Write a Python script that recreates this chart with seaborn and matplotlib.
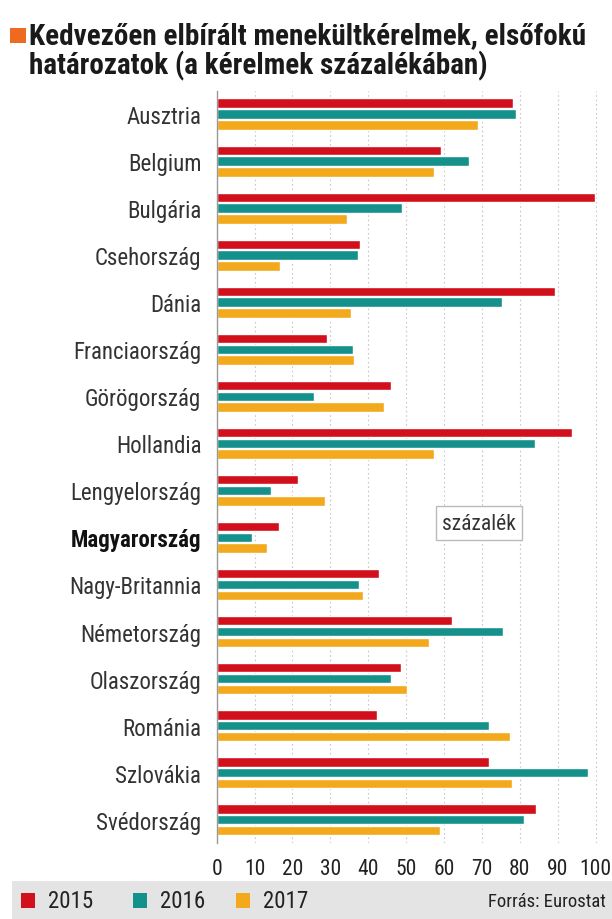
"""Kedvezően elbírált menekültkérelmek, elsőfokú határozatok"""
import matplotlib
matplotlib.use("Agg")
import matplotlib.pyplot as plt
from matplotlib import font_manager
from matplotlib.patches import Rectangle
import pandas as pd
import seaborn as sns

countries = ["Ausztria", "Belgium", "Bulgária", "Csehország", "Dánia",
             "Franciaország", "Görögország", "Hollandia", "Lengyelország",
             "Magyarország", "Nagy-Britannia", "Németország", "Olaszország",
             "Románia", "Szlovákia", "Svédország"]
v2015 = [78.3, 59.2, 99.8, 37.9, 89.3, 29.1, 46.0, 93.8, 21.5, 16.4, 42.9, 62.2, 48.5, 42.4, 71.8, 84.2]
v2016 = [78.9, 66.5, 48.8, 37.3, 75.2, 36.1, 25.8, 84.0, 14.3, 9.2, 37.5, 75.6, 46.1, 71.9, 97.9, 81.0]
v2017 = [68.9, 57.4, 34.4, 16.7, 35.4, 36.2, 44.2, 57.4, 28.6, 13.4, 38.7, 56.1, 50.1, 77.4, 77.8, 58.9]
years = ["2015", "2016", "2017"]
colors = ["#D2101C", "#15918C", "#F2A91C"]
xticks = list(range(0, 101, 10))

rows = []
for yr, vals in zip(years, [v2015, v2016, v2017]):
    for c, v in zip(countries, vals):
        rows.append({"country": c, "year": yr, "value": v})
df = pd.DataFrame(rows)

sns.set_style("white")

# pick a narrow font if there is one
names = {f.name for f in font_manager.fontManager.ttflist}
narrow = [n for n in ["Roboto Condensed", "Liberation Sans Narrow", "Open Sans Condensed",
                      "Noto Sans Condensed"] if n in names]
stretched = [f.name for f in font_manager.fontManager.ttflist
             if str(f.stretch) in ("condensed", "semi-condensed", "extra-condensed", "75", "87.5")]
if narrow:
    plt.rcParams["font.family"] = [narrow[0], "DejaVu Sans"]
    scale = 1.0
elif stretched:
    plt.rcParams["font.family"] = [stretched[0], "DejaVu Sans"]
    plt.rcParams["font.stretch"] = "condensed"
    scale = 0.9
else:
    plt.rcParams["font.family"] = ["Roboto", "DejaVu Sans"]
    scale = 0.85

fig = plt.figure(figsize=(6.12, 9.2), dpi=100)
ax = fig.add_axes([0.354, 0.0824, 0.6256, 0.8181])

sns.barplot(data=df, y="country", x="value", hue="year", order=countries,
            hue_order=years, palette=colors, orient="h", width=0.69, gap=0.12,
            saturation=1, legend=False, ax=ax)

ax.set_xlim(0, 101)
ax.set_ylim(15.5, -0.5)
ax.set_xticks(xticks)
ax.set_xticklabels([str(t) for t in xticks], fontsize=15.5 * scale, color="#222222")
ax.set_xlabel("")
ax.set_ylabel("")
ax.tick_params(axis="y", length=0, pad=11, labelsize=16.5 * scale, labelcolor="#333333")
ax.tick_params(axis="x", length=5, width=0.8, color="#999999", pad=6)
ax.xaxis.grid(True, linestyle=(0, (1.5, 2.5)), color="#c8c8c8", linewidth=0.8)
ax.set_axisbelow(True)
for s in ["top", "right", "bottom"]:
    ax.spines[s].set_visible(False)
ax.spines["left"].set_color("#999999")
ax.spines["left"].set_linewidth(1.0)
for lbl in ax.get_yticklabels():
    if lbl.get_text() == "Magyarország":
        lbl.set_fontweight("bold")
        lbl.set_color("#111111")

ax.text(69.2, 8.7, "százalék", ha="center", va="center", fontsize=15.5 * scale, color="#333333",
        bbox=dict(boxstyle="square,pad=0.3", fc="white", ec="#bbbbbb", lw=1))

# title
fig.patches.append(Rectangle((0.016, 0.9525), 0.026, 0.0165, transform=fig.transFigure,
                             fc="#EE6A1E", ec="none"))
fig.text(0.047, 0.9605, "Kedvezően elbírált menekültkérelmek, elsőfokú", fontsize=21 * scale,
         fontweight="bold", color="#1a1a1a", va="center", ha="left")
fig.text(0.047, 0.9285, "határozatok (a kérelmek százalékában)", fontsize=21 * scale,
         fontweight="bold", color="#1a1a1a", va="center", ha="left")

# footer band with legend
fig.patches.append(Rectangle((0.02, 0.0), 0.98, 0.041, transform=fig.transFigure,
                             fc="#E4E4E4", ec="none", zorder=0))
legend_x = [0.034, 0.217, 0.386]
for x, yr, col in zip(legend_x, years, colors):
    fig.patches.append(Rectangle((x, 0.0125), 0.023, 0.0155, transform=fig.transFigure,
                                 fc=col, ec="none"))
    fig.text(x + 0.044, 0.0203, yr, fontsize=16.5 * scale, color="#222222", va="center", ha="left")
fig.text(0.99, 0.0195, "Forrás: Eurostat", fontsize=13.5 * scale, color="#222222",
         va="center", ha="right")

fig.savefig("out.png", dpi=100)
